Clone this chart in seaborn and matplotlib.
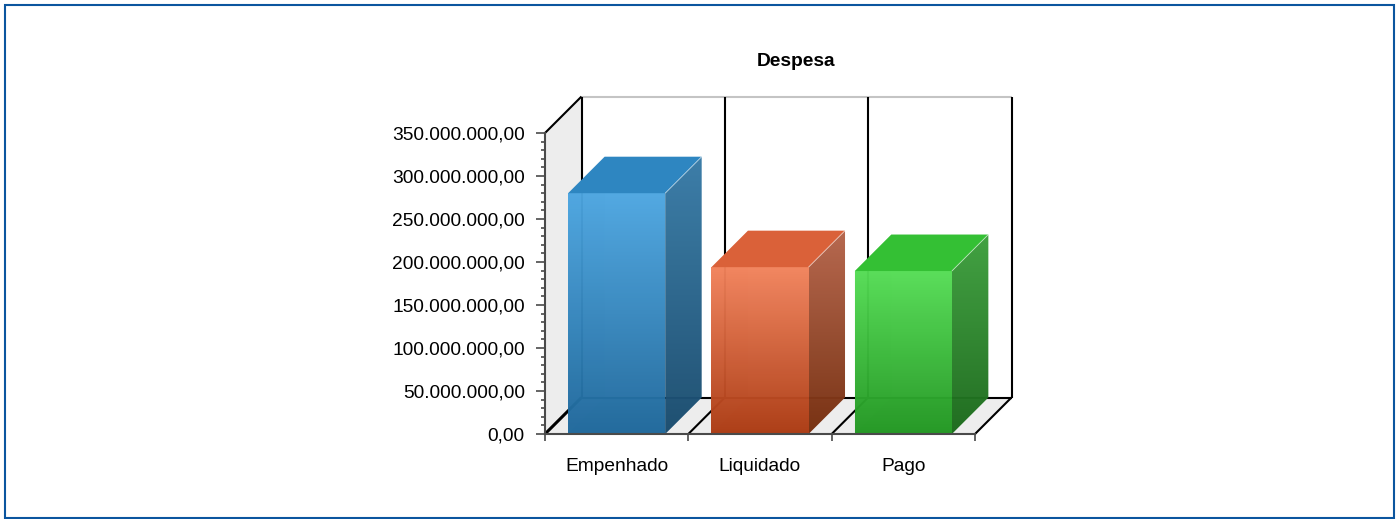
import numpy as np
import pandas as pd
import seaborn as sns
import matplotlib.pyplot as plt
from matplotlib.colors import to_rgb
from matplotlib.patches import Polygon, Rectangle

categories = ["Empenhado", "Liquidado", "Pago"]
values = [280000000, 194000000, 189500000]
y_ticks = [0, 50000000, 100000000, 150000000, 200000000, 250000000, 300000000, 350000000]
y_labels = ["0,00", "50.000.000,00", "100.000.000,00", "150.000.000,00",
            "200.000.000,00", "250.000.000,00", "300.000.000,00", "350.000.000,00"]

# colours for each bar: front top/bottom, side top/bottom, top face
front_top = ["#4da6e1", "#f2835c", "#55dd55"]
front_bottom = ["#1f689b", "#ac3b13", "#229722"]
side_top = ["#367aa6", "#b5644a", "#3c9f3c"]
side_bottom = ["#1a4c6e", "#752e0e", "#1c6a1c"]
top_face = ["#2e86c1", "#da6139", "#34c034"]

W, H = 1398, 519
sns.set_theme(style="white")
plt.rcParams["font.family"] = ["Liberation Sans", "DejaVu Sans"]

fig = plt.figure(figsize=(W / 100, H / 100), dpi=100)
ax = fig.add_axes([545 / W, 1 - 434 / H, 430 / W, 301 / H])
ax.patch.set_alpha(0)

df = pd.DataFrame({"categoria": categories, "valor": values})
sns.barplot(data=df, x="categoria", y="valor", hue="categoria", palette=front_top,
            width=0.677, legend=False, ax=ax, zorder=5)
bars = list(ax.patches)

ax.set_xlim(-0.5, 2.5)
ax.set_ylim(0, 350000000)

# depth of the fake 3d, in px on both axes
dx = 36.5 * 3 / 430
dy = 36.5 * 350000000 / 301


def gradient(poly, c1, c2, z, alpha):
    rows = np.linspace(to_rgb(c2), to_rgb(c1), 256)[:, None, :]
    xs = [p[0] for p in poly]
    ys = [p[1] for p in poly]
    im = ax.imshow(rows, origin="lower", aspect="auto", interpolation="bilinear",
                   extent=(min(xs), max(xs), min(ys), max(ys)), zorder=z, alpha=alpha)
    clip = Polygon(poly, closed=True, transform=ax.transData, fc="none", ec="none")
    im.set_clip_path(clip)
    # side faces stick out of the axes box
    im.set_clip_box(fig.bbox)


def flat(poly, color, z, alpha=1.0):
    ax.add_patch(Polygon(poly, closed=True, fc=color, ec="none", alpha=alpha,
                         zorder=z, clip_on=False))


def line(xs, ys, color="black", lw=1.5, z=2):
    ax.plot(xs, ys, color=color, lw=lw, zorder=z, clip_on=False, solid_capstyle="butt")


# walls and floor
flat([(-0.5, 0), (-0.5 + dx, dy), (-0.5 + dx, 350000000 + dy), (-0.5, 350000000)], "#ededed", 1)
flat([(-0.5, 0), (2.5, 0), (2.5 + dx, dy), (-0.5 + dx, dy)], "#ededed", 1)

# back grid
line([-0.5 + dx, 2.5 + dx], [350000000 + dy] * 2, color="#c4c4c4")
line([-0.5 + dx, 2.5 + dx], [dy, dy])
line([-0.5, -0.5 + dx], [350000000, 350000000 + dy])
for b in [-0.5, 0.5, 1.5, 2.5]:
    line([b + dx, b + dx], [dy, 350000000 + dy])
    line([b, b + dx], [0, dy], lw=1.5 if b != -0.5 else 2.2)

for i, bar in enumerate(bars):
    x0 = bar.get_x()
    x1 = x0 + bar.get_width()
    h = bar.get_height()
    bar.set_alpha(0)

    # hidden faces seen through the transparent front
    flat([(x0, 0), (x0 + dx, dy), (x0 + dx, h + dy), (x0, h)], front_bottom[i], 3, alpha=0.12)
    flat([(x0, 0), (x1, 0), (x1 + dx, dy), (x0 + dx, dy)], front_bottom[i], 3, alpha=0.25)

    gradient([(x0, 0), (x1, 0), (x1, h), (x0, h)], front_top[i], front_bottom[i], 6, 0.97)
    gradient([(x1, 0), (x1 + dx, dy), (x1 + dx, h + dy), (x1, h)], side_top[i], side_bottom[i], 6, 0.97)
    flat([(x0, h), (x1, h), (x1 + dx, h + dy), (x0 + dx, h + dy)], top_face[i], 6)
    line([x1, x1 + dx], [h, h + dy], color="#ffffff80", lw=0.7, z=7)

ax.set_xlim(-0.5, 2.5)
ax.set_ylim(0, 350000000)

# axes
sns.despine(ax=ax, top=True, right=True)
for s in ["left", "bottom"]:
    ax.spines[s].set_color("#4a4a4a")
    ax.spines[s].set_linewidth(1.5)
    ax.spines[s].set_zorder(8)

ax.set_yticks(y_ticks, y_labels)
ax.set_yticks(np.arange(0, 350000001, 10000000), minor=True)
ax.set_xticks([-0.5, 0.5, 1.5, 2.5], ["", "", "", ""])
ax.set_xticks([0, 1, 2], categories, minor=True)
ax.set_xlabel("")
ax.set_ylabel("")
ax.tick_params(axis="y", which="major", left=True, length=6.5, width=1.2, color="#4a4a4a",
               labelsize=13.8, pad=8, labelcolor="black")
ax.tick_params(axis="y", which="minor", left=True, length=3, width=1.2, color="#4a4a4a")
ax.tick_params(axis="x", which="major", bottom=True, length=5, width=1.2, color="#4a4a4a")
ax.tick_params(axis="x", which="minor", bottom=False, length=0, labelsize=13.8, pad=17.5,
               labelcolor="black")

fig.text(796 / W, 1 - 62 / H, "Despesa", fontsize=13.8, fontweight="bold",
         ha="center", va="center", color="black")

# outer frame
fig.add_artist(Rectangle((4.5 / W, 1 - 517.5 / H), 1389.5 / W, 513 / H, fc="none",
                         ec="#0b559f", lw=1.5, transform=fig.transFigure))

fig.savefig("out.png", dpi=100, facecolor="white")
